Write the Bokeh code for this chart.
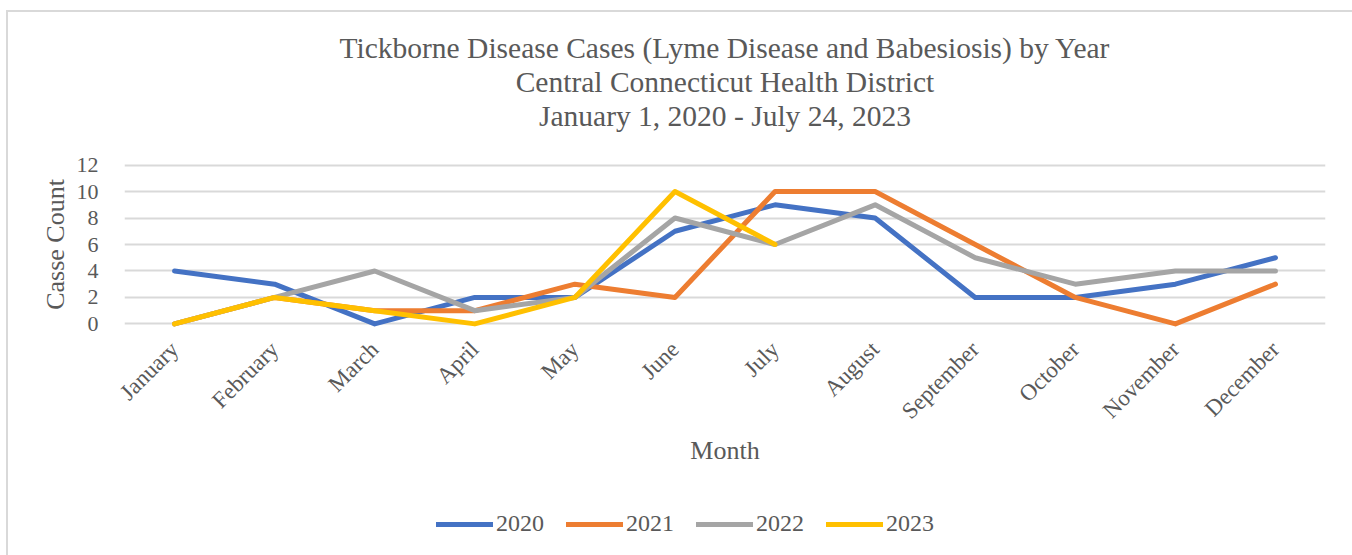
import math
from bokeh.plotting import figure
from bokeh.layouts import column
from bokeh.models import Title, Legend, LegendItem, FactorRange, Range1d, SingleIntervalTicker
from bokeh.embed import file_html
from bokeh.resources import INLINE

months = ["January", "February", "March", "April", "May", "June", "July",
          "August", "September", "October", "November", "December"]
cases_2020 = [4, 3, 0, 2, 2, 7, 9, 8, 2, 2, 3, 5]
cases_2021 = [0, 2, 1, 1, 3, 2, 10, 10, 6, 2, 0, 3]
cases_2022 = [0, 2, 4, 1, 2, 8, 6, 9, 5, 3, 4, 4]
cases_2023 = [0, 2, 1, 0, 2, 10, 6]
years = ["2020", "2021", "2022", "2023"]
colors = ["#4472C4", "#ED7D31", "#A5A5A5", "#FFC000"]
title_lines = ["Tickborne Disease Cases (Lyme Disease and Babesiosis) by Year",
               "Central Connecticut Health District",
               "January 1, 2020 - July 24, 2023"]

FONT = "Liberation Serif"
TXT = "#595959"
series = [cases_2020, cases_2021, cases_2022, cases_2023]

p = figure(frame_width=1201, frame_height=172,
           x_range=FactorRange(*months, range_padding=0),
           y_range=Range1d(-0.5, 12.5), output_backend="svg", toolbar_location=None,
           min_border_left=116, min_border_right=27, min_border_top=146, min_border_bottom=180)
p.outline_line_color = None
p.background_fill_color = "white"
p.border_fill_color = "white"

for vals, col in zip(series, colors):
    p.line(months[:len(vals)], vals, line_color=col, line_width=5, line_join="round", line_cap="round")

p.xgrid.grid_line_color = None
p.ygrid.grid_line_color = "#d9d9d9"
p.ygrid.grid_line_width = 2

p.yaxis.ticker = SingleIntervalTicker(interval=2)
for ax in (p.xaxis[0], p.yaxis[0]):
    ax.axis_line_color = None
    ax.major_tick_line_color = None
    ax.minor_tick_line_color = None
    ax.major_label_text_font = FONT
    ax.major_label_text_color = TXT
    ax.axis_label_text_font = FONT
    ax.axis_label_text_color = TXT
    ax.axis_label_text_font_style = "normal"
    ax.axis_label_text_font_size = "26px"

p.yaxis.major_label_text_font_size = "22px"
p.xaxis.major_label_text_font_size = "23px"
p.yaxis.axis_label = "Casse Count"
p.yaxis.major_label_standoff = 20
p.yaxis.axis_label_standoff = 4
p.xaxis.axis_label = "Month"
p.xaxis.major_label_orientation = math.pi / 4
p.xaxis.major_label_standoff = 9
p.xaxis.axis_label_standoff = 0

# spacer between the frame and the lowest title line
p.add_layout(Title(text=" ", text_font=FONT, text_font_size="23px", standoff=0), "above")
for line in reversed(title_lines):
    t = Title(text=line, align="center", text_font=FONT, text_font_size="29.5px",
              text_color=TXT, text_font_style="normal", standoff=0, offset=-44)
    p.add_layout(t, "above")

# legend strip: same series, drawn outside its visible range so only the legend shows
leg = figure(frame_width=1201, frame_height=30,
             x_range=FactorRange(*months, range_padding=0), y_range=Range1d(100, 101),
             output_backend="svg", toolbar_location=None,
             min_border_left=116, min_border_right=27, min_border_top=0, min_border_bottom=15)
leg.axis.visible = False
leg.grid.visible = False
leg.outline_line_color = None
leg_renderers = []
for vals, col in zip(series, colors):
    leg_renderers.append(leg.line(months[:len(vals)], vals, line_color=col, line_width=5,
                                  line_cap="round"))
legend = Legend(items=[LegendItem(label=y, renderers=[r]) for y, r in zip(years, leg_renderers)],
                orientation="horizontal", location=(312, 3),
                label_text_font=FONT, label_text_font_size="24px", label_text_color=TXT,
                glyph_width=57, glyph_height=20, label_standoff=3, spacing=22,
                border_line_color=None, background_fill_alpha=0, margin=0, padding=0)
leg.add_layout(legend, "center")

layout = column(p, leg, spacing=0)
layout.styles = {"margin-left": "6px", "margin-top": "10px",
                 "border-left": "2px solid #d9d9d9", "border-top": "2px solid #d9d9d9"}

open("out.html", "w").write(file_html(layout, INLINE))
